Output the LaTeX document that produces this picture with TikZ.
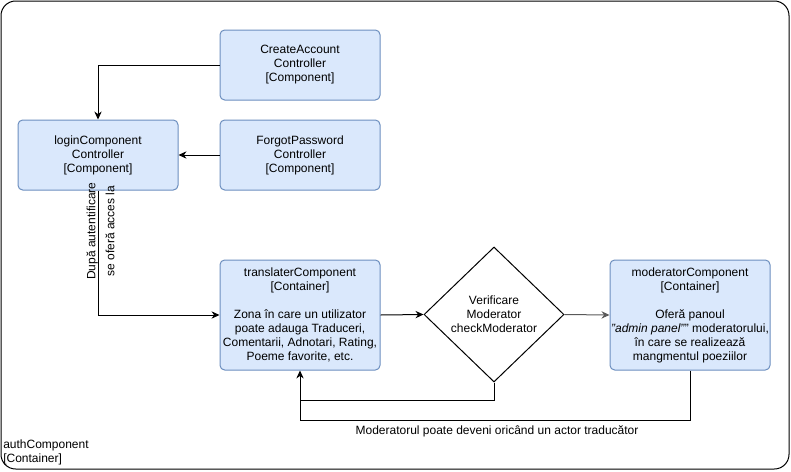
\documentclass[tikz,border=0pt]{standalone}
\usepackage{fontspec}
\setmainfont{Liberation Sans}
\usetikzlibrary{shapes.geometric,arrows.meta}
\definecolor{boxfill}{HTML}{DAE8FC}
\definecolor{boxline}{HTML}{6C8EBF}
\begin{document}
\begin{tikzpicture}[x=0.75pt,y=-0.75pt,
  every node/.style={font=\fontsize{9}{10.5}\selectfont},
  comp/.style={draw=boxline,fill=boxfill,rounded corners=3.5pt,line width=0.75pt,
    minimum width=120pt,minimum height=52.5pt,align=center,inner sep=0pt},
  cont/.style={comp,minimum height=82.5pt},
  decision/.style={draw=black,fill=white,diamond,line width=0.75pt,inner sep=0pt,
    minimum width=105pt,minimum height=101.25pt},
  txt/.style={align=center,inner sep=0pt},
  arr/.style={draw=black,line width=0.75pt,-{Stealth[length=6pt,width=5.5pt]}},
  conn/.style={draw=black,line width=0.75pt}]
\useasboundingbox (0,0) rectangle (791,471);
\draw[line width=0.75pt,rounded corners=11pt] (1,1) rectangle (789,469);
\node[anchor=west,align=left,inner sep=0pt] (auth) at (3,452) {authComponent\\{[}Container{]}};

\node[comp] (ca) at (300,65) {CreateAccount\\Controller\\{[}Component{]}};
\node[comp] (login) at (98,155) {loginComponent\\Controller\\{[}Component{]}};
\node[comp] (fp) at (300,155) {ForgotPassword\\Controller\\{[}Component{]}};
\node[cont] (tr) at (300,315) {translaterComponent\\{[}Container{]}\\[10.5pt]Zona în care un utilizator\\poate adauga Traduceri,\\Comentarii, Adnotari, Rating,\\Poeme favorite, etc.};
\node[decision] (chk) at (494,314.5) {};
\node[txt] (chktxt) at (chk.center) {Verificare\\Moderator\\checkModerator};
\node[cont] (mod) at (690,315) {moderatorComponent\\{[}Container{]}\\[10.5pt]Oferă panoul\\\textit{"admin panel"}" moderatorului,\\în care se realizează\\mangmentul poeziilor};

\draw[arr] (ca.west) -| (login.north);
\draw[arr] (fp.west) -- (login.east);
\draw[arr] (login.south) |- (tr.west);
\node[txt,rotate=90] (lbl1) at (100.5,231) {După autentificare\\[3.8pt]se oferă acces la};
\draw[arr] (tr.east) -- (chk.west);
\draw[arr,draw=black!65] (chk.east) -- (mod.west);
\coordinate (j) at (300,400);
\draw[conn] (chk.south) |- (j);
\draw[arr] (mod.south) -- ++(0,50) -| (tr.south);
\node[txt] (lbl2) at (497,431) {Moderatorul poate deveni oricând un actor traducător};
\end{tikzpicture}
\end{document}
